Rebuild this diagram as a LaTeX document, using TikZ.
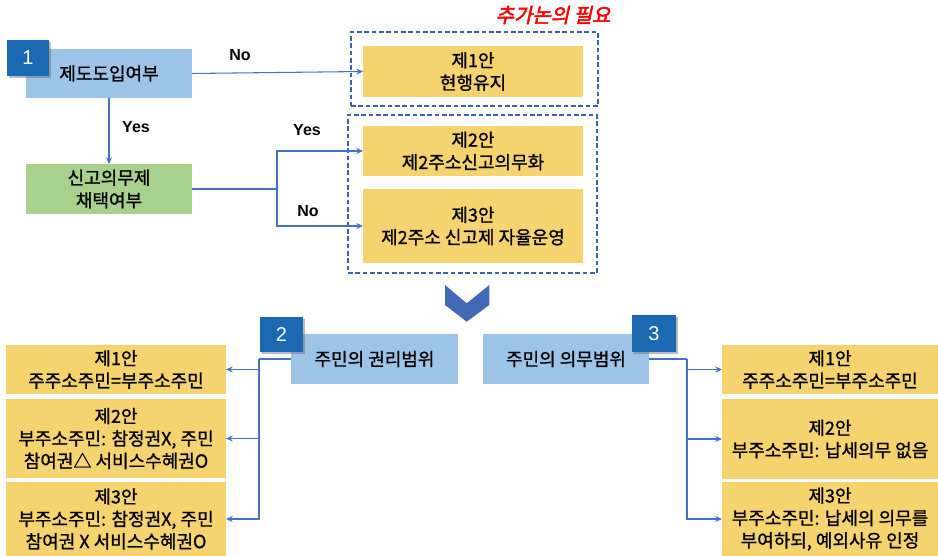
\documentclass[tikz,border=0pt]{standalone}
\usepackage{fontspec}
\setmainfont{Noto Sans CJK KR}
\newfontfamily\kfont[FakeBold=1]{Noto Sans CJK KR}
\newfontfamily\kred[FakeSlant=0.22,FakeBold=2.5]{Noto Sans CJK KR}
\newfontfamily\lfont{Liberation Sans}
\usetikzlibrary{arrows.meta,shadows}
\definecolor{lblue}{HTML}{9DC3E6}
\definecolor{lgreen}{HTML}{A9D18E}
\definecolor{lyellow}{HTML}{F5D36E}
\definecolor{badgeblue}{HTML}{1B69B3}
\definecolor{conblue}{HTML}{4472C4}
\definecolor{dashblue}{HTML}{3A62B0}
\definecolor{chev}{HTML}{4169B5}
\begin{document}
\begin{tikzpicture}[x=0.75pt,y=-0.75pt,
  every node/.style={inner sep=0pt,outer sep=0pt},
  kbox/.style={minimum width=124.5pt,minimum height=37.5pt,align=center,font=\kfont\fontsize{13.5}{17}\selectfont},
  bluebox/.style={kbox,fill=lblue},
  greenbox/.style={kbox,fill=lgreen},
  ybox/.style={minimum width=165pt,align=center,fill=lyellow,font=\kfont\fontsize{13.5}{16.8}\selectfont},
  badge/.style={fill=badgeblue,text=white,font=\lfont\fontsize{15}{17}\selectfont,
     drop shadow={shadow xshift=1.2pt,shadow yshift=-1.2pt,opacity=0.45,fill=black!60}},
  dbox/.style={draw=dashblue,line width=1.4pt,dash pattern=on 3.5pt off 2pt},
  yn/.style={font=\lfont\bfseries\fontsize{12}{14}\selectfont},
  con/.style={draw=conblue,line width=0.8pt},
  arr/.style={con,-{Stealth[length=5pt,width=4.5pt]}}
]
\useasboundingbox (0,0) rectangle (938,556);

% ---- top part
\node[bluebox,minimum height=36.75pt] (b1) at (109,73.5) {제도도입여부};
\node[badge,minimum width=31.5pt,minimum height=27pt] (n1) at (28,58) {1};
\node[greenbox] (g) at (109,189) {신고의무제\\채택여부};

\node[dbox,minimum width=185.25pt,minimum height=55.5pt] (d1) at (474.5,69) {};
\node[dbox,minimum width=186.75pt,minimum height=118.5pt] (d2) at (472.5,194) {};
\node[ybox,minimum height=38.25pt] (y1) at (473,71.5) {제1안\\현행유지};
\node[ybox,minimum height=37.5pt] (y2) at (473,151) {제2안\\제2주소신고의무화};
\node[ybox,minimum height=55.5pt] (y3) at (473,226) {제3안\\제2주소 신고제 자율운영};

\node[font=\kred\fontsize{15}{17}\selectfont,text=red] (red) at (553,15) {추가논의 필요};

\draw[arr] (b1.east) -- (y1.west);
\node[yn] (no1) at (240,55) {No};
\draw[arr] (b1.south) -- (g.north);
\node[yn] (yes1) at (136,127) {Yes};

\coordinate (s1) at (277,189);
\draw[con,line width=1.3pt] (g.east) -- (s1);
\draw[arr] (s1) |- (y2.west);
\draw[arr] (s1) |- (y3.west);
\node[yn] (yes2) at (307,130) {Yes};
\node[yn] (no2) at (308,211) {No};

% ---- chevron
\fill[chev] (445,285) -- (466.7,303.3) -- (489.3,285) -- (489.3,305) -- (466.7,321.7) -- (445,305) -- cycle;

% ---- bottom left
\node[bluebox,minimum width=125.25pt] (b2) at (374.5,359) {주민의 권리범위};
\node[badge,minimum width=32.25pt,minimum height=26.25pt] (n2) at (281.5,334.5) {2};
\node[ybox,minimum height=36.75pt] (l1) at (116,369.5) {제1안\\주주소주민=부주소주민};
\node[ybox,minimum height=59.25pt] (l2) at (116,438.5) {제2안\\부주소주민: 참정권X, 주민\\참여권△ 서비스수혜권O};
\node[ybox,minimum height=55.5pt] (l3) at (116,519) {제3안\\부주소주민: 참정권X, 주민\\참여권 X 서비스수혜권O};

\coordinate (s2) at (259,359);
\draw[con,line width=1.3pt] (b2.west) -- (s2);
\draw[arr] (s2) |- (l1.east);
\draw[arr] (s2) |- (l2.east);
\draw[arr] (s2) |- (l3.east);

% ---- bottom right
\node[bluebox] (b3) at (566,359) {주민의 의무범위};
\node[badge,minimum width=33pt,minimum height=27.75pt] (n3) at (654,333.5) {3};
\node[ybox,minimum width=162pt,minimum height=36.75pt] (r1) at (830,369.5) {제1안\\주주소주민=부주소주민};
\node[ybox,minimum width=162pt,minimum height=60pt] (r2) at (830,439) {제2안\\부주소주민: 납세의무 없음};
\node[ybox,minimum width=162pt,minimum height=55.5pt] (r3) at (830,519) {제3안\\부주소주민: 납세의 의무를\\부여하되, 예외사유 인정};

\coordinate (s3) at (687,359);
\draw[con,line width=1.3pt] (b3.east) -- (s3);
\draw[arr] (s3) |- (r1.west);
\draw[arr] (s3) |- (r2.west);
\draw[arr] (s3) |- (r3.west);
\end{tikzpicture}
\end{document}
